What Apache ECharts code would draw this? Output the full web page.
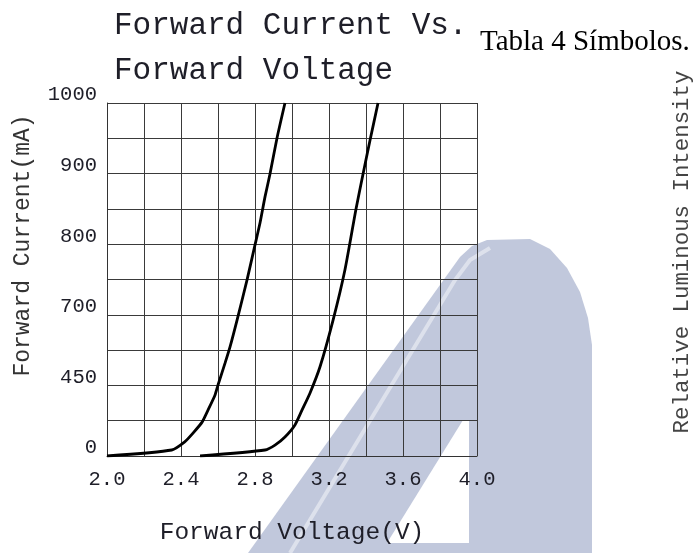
<!DOCTYPE html>
<html>
<head>
<meta charset="utf-8">
<script src="https://cdn.jsdelivr.net/npm/echarts@6/dist/echarts.min.js"></script>
<style>
html,body{margin:0;padding:0;background:#fff;}
#chart{width:698px;height:553px;}
</style>
</head>
<body>
<div id="chart"></div>
<script>
// ---- data ----
const xTickLabels = ['2.0', '2.4', '2.8', '3.2', '3.6', '4.0'];
const yTickLabels = ['0', '450', '700', '800', '900', '1000'];
// curve A (left): voltage (V) and position on the current scale (0..1000 grid units)
const curveAVoltage = [2.00, 2.35, 2.42, 2.465, 2.514, 2.546, 2.584, 2.600, 2.638, 2.665, 2.703, 2.757, 2.800, 2.827, 2.854, 2.881, 2.919, 2.962];
const curveACurrent = [0, 17, 40, 65, 96, 130, 173, 201, 263, 309, 385, 499, 598, 660, 734, 799, 901, 1000];
// curve B (right)
const curveBVoltage = [2.503, 2.854, 2.908, 2.962, 3.016, 3.054, 3.097, 3.151, 3.222, 3.286, 3.346, 3.384, 3.422, 3.465];
const curveBCurrent = [0, 17, 31, 54, 88, 130, 178, 252, 385, 527, 700, 799, 895, 1000];

const titleLines = ['Forward Current Vs.', 'Forward Voltage'];
const sideNote = 'Tabla 4 Símbolos.';
const rightLabel = 'Relative Luminous Intensity';
const xName = 'Forward Voltage(V)';
const yName = 'Forward Current(mA)';

const MONO = '"Liberation Mono", "DejaVu Sans Mono", monospace';
const SERIF = '"Liberation Serif", "DejaVu Serif", serif';

function zip(a, b) { return a.map((v, i) => [v, b[i]]); }

const chart = echarts.init(document.getElementById('chart'), null, { renderer: 'canvas' });

const wmColor = '#c1c8dc';

chart.setOption({
  backgroundColor: '#ffffff',
  animation: false,
  title: [
    {
      text: titleLines.join('\n'),
      left: 114, top: 3, padding: 0,
      textStyle: { fontFamily: MONO, fontSize: 31, fontWeight: 'normal', color: '#1e1e28', lineHeight: 45 }
    },
    {
      text: sideNote,
      left: 480, top: 28, padding: 0,
      textStyle: { fontFamily: SERIF, fontSize: 29, fontWeight: 'normal', color: '#000', lineHeight: 29 }
    }
  ],
  grid: { left: 107, right: 221, top: 103, bottom: 97, containLabel: false },
  xAxis: {
    type: 'value', min: 2.0, max: 4.0, interval: 0.2,
    name: xName, nameLocation: 'middle', nameGap: 64,
    nameTextStyle: { fontFamily: MONO, fontSize: 24.5, color: '#1e1e28' },
    axisLine: { show: true, lineStyle: { color: '#333', width: 1 } },
    axisTick: { show: false },
    axisLabel: {
      margin: 13, fontFamily: MONO, fontSize: 20.5, color: '#1e1e28',
      formatter: function (v) {
        const k = Math.round((v - 2.0) / 0.2);
        return k % 2 === 0 ? xTickLabels[k / 2] : '';
      }
    },
    splitLine: { show: true, lineStyle: { color: '#3a3a3a', width: 1 } }
  },
  yAxis: {
    type: 'value', min: 0, max: 1000, interval: 100,
    name: yName, nameLocation: 'middle', nameGap: 73, nameRotate: 90,
    nameTextStyle: { fontFamily: MONO, fontSize: 23, color: '#333', padding: [0, 0, 0, 68] },
    axisLine: { show: true, lineStyle: { color: '#333', width: 1 } },
    axisTick: { show: false },
    axisLabel: {
      margin: 10, fontFamily: MONO, fontSize: 20.5, color: '#1e1e28',
      verticalAlign: 'bottom', lineHeight: 16,
      formatter: function (v) {
        const k = Math.round(v / 100);
        return k % 2 === 0 ? yTickLabels[k / 2] : '';
      }
    },
    splitLine: { show: true, lineStyle: { color: '#3a3a3a', width: 1 } }
  },
  graphic: [
    {
      type: 'polygon', z: -10, silent: true,
      shape: { points: [[248, 553], [460, 257], [472, 246], [487, 240], [530, 239], [550, 249], [567, 268], [580, 292], [588, 318], [592, 345], [592, 553]] },
      style: { fill: wmColor }
    },
    {
      type: 'polygon', z: -9, silent: true,
      shape: { points: [[463, 420], [469, 420], [469, 543], [387, 543]] },
      style: { fill: '#ffffff' }
    },
    {
      type: 'polyline', z: -9, silent: true,
      shape: { points: [[290, 553], [455, 280], [470, 260], [490, 248]] },
      style: { stroke: 'rgba(255,255,255,0.45)', lineWidth: 4, fill: null }
    },
    {
      type: 'text', silent: true,
      x: 682, y: 252, rotation: Math.PI / 2,
      style: { text: rightLabel, font: '22.4px ' + MONO, fill: '#444', align: 'center', verticalAlign: 'middle' }
    }
  ],
  series: [
    {
      type: 'line', data: zip(curveAVoltage, curveACurrent), showSymbol: false, symbol: 'none',
      smooth: 0.2, lineStyle: { color: '#000', width: 2.8 }, z: 5
    },
    {
      type: 'line', data: zip(curveBVoltage, curveBCurrent), showSymbol: false, symbol: 'none',
      smooth: 0.2, lineStyle: { color: '#000', width: 2.8 }, z: 5
    }
  ]
});
</script>
</body>
</html>
